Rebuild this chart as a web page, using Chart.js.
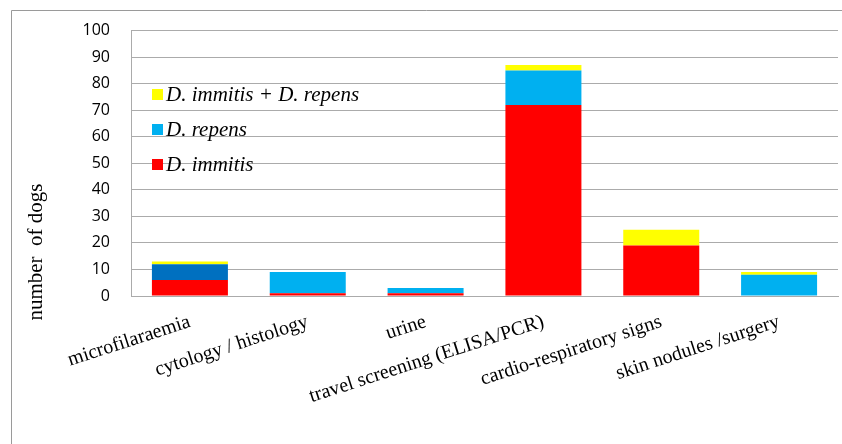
<!DOCTYPE html>
<html>
<head>
<meta charset="utf-8">
<script src="https://cdn.jsdelivr.net/npm/chart.js@4.4.0/dist/chart.umd.min.js"></script>
<style>
  html, body { margin: 0; padding: 0; background: #fff; }
  #wrap { position: relative; width: 842px; height: 444px; }
</style>
</head>
<body>
<div id="wrap"><canvas id="c" width="842" height="444"></canvas></div>
<script>
// Categories of diagnosis and dog counts per Dirofilaria species
const categories = [
  'microfilaraemia',
  'cytology / histology',
  'urine',
  'travel screening (ELISA/PCR)',
  'cardio-respiratory signs',
  'skin nodules /surgery'
];
const immitis = [6, 1, 1, 72, 19, 0];
const repens = [6, 8, 2, 13, 0, 8];
const mixed = [1, 0, 0, 2, 6, 1];
const yTicks = [0, 10, 20, 30, 40, 50, 60, 70, 80, 90, 100];

const RED = '#FF0000';
const BLUE = '#00B0F0';
const DARK_BLUE = '#0070C0';
const YELLOW = '#FFFF00';
const GRID = '#ABABAB';
const SERIF = '"Liberation Serif", "Times New Roman", serif';

// Outer frame lines (top and left edges)
const framePlugin = {
  id: 'frame',
  beforeDraw(chart) {
    const ctx = chart.ctx;
    ctx.save();
    ctx.strokeStyle = '#9A9A9A';
    ctx.lineWidth = 1;
    ctx.beginPath();
    ctx.moveTo(11.5, 444);
    ctx.lineTo(11.5, 10.5);
    ctx.lineTo(842, 10.5);
    ctx.stroke();
    ctx.restore();
  }
};

// Vertical axis title
const yTitlePlugin = {
  id: 'yTitle',
  afterDraw(chart) {
    const ctx = chart.ctx;
    ctx.save();
    ctx.translate(36, 252);
    ctx.rotate(-Math.PI / 2);
    ctx.font = '21px ' + SERIF;
    ctx.fillStyle = '#000';
    ctx.textAlign = 'center';
    ctx.textBaseline = 'middle';
    ctx.fillText('number  of dogs', 0, 0);
    ctx.restore();
  }
};

// Legend inside the plot, listed top-down in reverse stacking order
const legendPlugin = {
  id: 'innerLegend',
  afterDatasetsDraw(chart) {
    const ctx = chart.ctx;
    const ds = chart.data.datasets.slice().reverse();
    ctx.save();
    ctx.font = 'italic 21px ' + SERIF;
    ctx.textBaseline = 'middle';
    ds.forEach((d, i) => {
      const y = 94 + i * 35;
      ctx.fillStyle = d.legendColor;
      ctx.fillRect(152, y - 5, 11, 11);
      ctx.fillStyle = '#000';
      ctx.fillText(d.label, 166, y + 1);
    });
    ctx.restore();
  }
};

new Chart(document.getElementById('c'), {
  type: 'bar',
  data: {
    labels: categories,
    datasets: [
      { label: 'D. immitis', data: immitis, backgroundColor: RED, legendColor: RED },
      { label: 'D. repens', data: repens,
        backgroundColor: repens.map((v, i) => i === 0 ? DARK_BLUE : BLUE), legendColor: BLUE },
      { label: 'D. immitis + D. repens', data: mixed, backgroundColor: YELLOW, legendColor: YELLOW }
    ]
  },
  options: {
    responsive: false,
    animation: false,
    layout: { padding: { left: 0, top: 30, right: 4, bottom: 0 } },
    datasets: {
      bar: { categoryPercentage: 1, barPercentage: 0.645, borderWidth: 0 }
    },
    plugins: {
      legend: { display: false },
      tooltip: { enabled: false }
    },
    scales: {
      x: {
        stacked: true,
        grid: { display: false, drawTicks: false },
        border: { display: true, color: GRID, width: 1 },
        ticks: {
          color: '#000',
          font: { family: SERIF, size: 20 },
          minRotation: 18,
          maxRotation: 18,
          autoSkip: false,
          padding: 14
        },
        afterFit(scale) { scale.height = 148; }
      },
      y: {
        stacked: true,
        min: 0,
        max: 100,
        afterBuildTicks(scale) { scale.ticks = yTicks.map(v => ({ value: v })); },
        grid: { color: GRID, lineWidth: 1, drawTicks: false },
        border: { display: true, color: GRID, width: 1 },
        ticks: {
          color: '#000',
          font: { family: '"Open Sans", sans-serif', size: 16 },
          padding: 21
        },
        afterFit(scale) { scale.width = 131; }
      }
    }
  },
  plugins: [framePlugin, yTitlePlugin, legendPlugin]
});
</script>
</body>
</html>
